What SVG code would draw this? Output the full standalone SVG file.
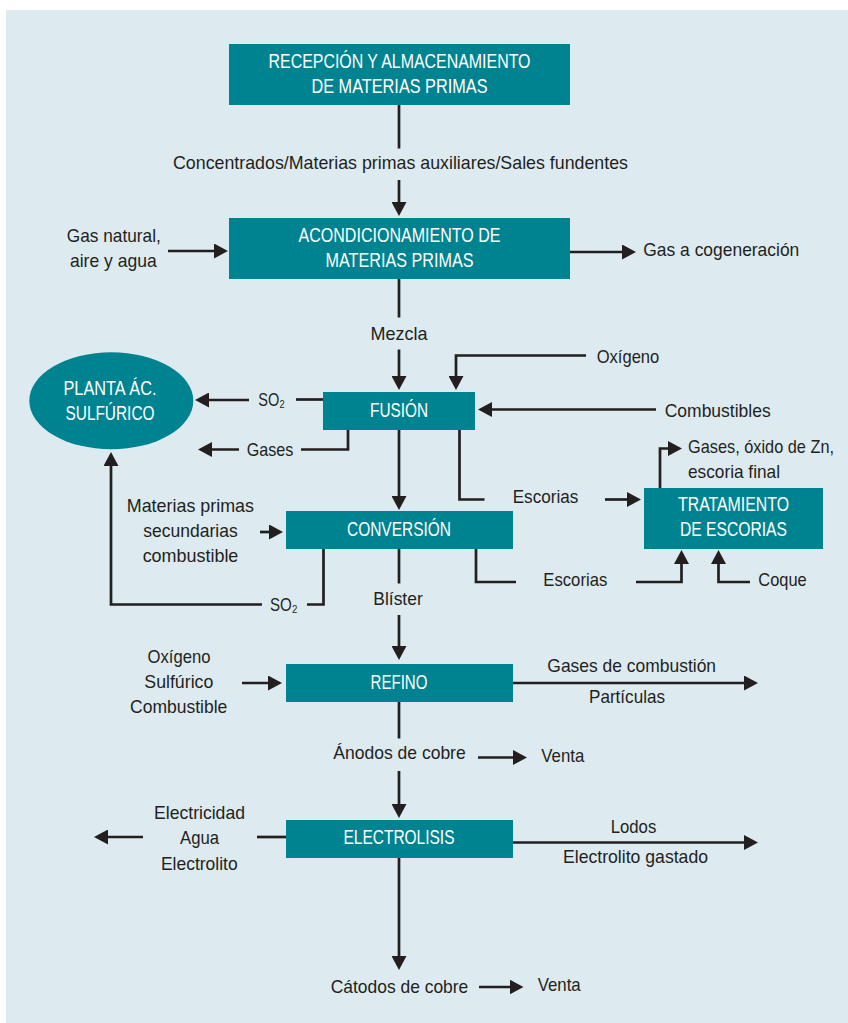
<svg xmlns="http://www.w3.org/2000/svg" width="848" height="1023" viewBox="0 0 848 1023">
<defs>
<style>
.bg{fill:#ffffff}
.panel{fill:#ddebf0}
.box{fill:#008390}
.bt{font-family:"Liberation Sans",Arial,sans-serif;font-size:20px;fill:#ffffff;text-anchor:middle}
.lt{font-family:"Liberation Sans","DejaVu Sans",Arial,sans-serif;font-size:19px;fill:#231f20}
.m{text-anchor:middle}
.ln{fill:none;stroke:#231f20;stroke-width:2.7;stroke-linejoin:miter}
.ar{marker-end:url(#ah)}
</style>
<marker id="ah" markerUnits="userSpaceOnUse" viewBox="0 0 14 15" markerWidth="14" markerHeight="15" refX="10" refY="7.5" orient="auto">
<path d="M0,0 L14,7.5 L0,15 Z" fill="#231f20"/>
</marker>
</defs>
<rect class="bg" x="0" y="0" width="848" height="1023"/>
<rect class="panel" x="6" y="10" width="842" height="1013"/>

<g id="connectors">
<path class="ln" d="M399,105 V148.5"/>
<path class="ln ar" d="M399,180 V212"/>
<path class="ln ar" d="M168,251 H224"/>
<path class="ln ar" d="M570,252 H632"/>
<path class="ln" d="M399,279 V317.5"/>
<path class="ln ar" d="M399,349.5 V386"/>
<path class="ln ar" d="M586,355.5 H456 V386"/>
<path class="ln ar" d="M656,409.5 H482"/>
<path class="ln" d="M323,399.5 H296"/>
<path class="ln ar" d="M249,400 H199"/>
<path class="ln" d="M348,430 V449.5 H301"/>
<path class="ln ar" d="M239,449.5 H202"/>
<path class="ln ar" d="M399,430 V506"/>
<path class="ln" d="M459.5,430 V499.5 H484.5"/>
<path class="ln ar" d="M605,499.5 H637"/>
<path class="ln ar" d="M660,488 V448.5 H678"/>
<path class="ln ar" d="M260,532 H279"/>
<path class="ln" d="M323.5,549 V604.5 H307"/>
<path class="ln ar" d="M262,604.5 H111 V456"/>
<path class="ln" d="M476,549 V582 H516"/>
<path class="ln ar" d="M636,582 H681.5 V554"/>
<path class="ln ar" d="M750,582 H718.5 V554"/>
<path class="ln" d="M399,549 V583.5"/>
<path class="ln ar" d="M399,615 V656"/>
<path class="ln ar" d="M242,683 H278"/>
<path class="ln ar" d="M513,683 H754"/>
<path class="ln" d="M399,702 V738.5"/>
<path class="ln ar" d="M399,771 V814"/>
<path class="ln ar" d="M478,757.5 H523"/>
<path class="ln" d="M286,837 H257"/>
<path class="ln ar" d="M143,837 H98"/>
<path class="ln ar" d="M513,842.5 H754"/>
<path class="ln ar" d="M399,858 V966"/>
<path class="ln ar" d="M479,987 H519.5"/>
</g>

<g id="recepcion">
<rect class="box" x="229" y="44" width="341" height="61"/>
<text class="bt" x="399.5" y="68.3" textLength="262" lengthAdjust="spacingAndGlyphs">RECEPCIÓN Y ALMACENAMIENTO</text>
<text class="bt" x="399.5" y="93.3" textLength="176" lengthAdjust="spacingAndGlyphs">DE MATERIAS PRIMAS</text>
</g>
<g id="acondicionamiento">
<rect class="box" x="229" y="218" width="341" height="61"/>
<text class="bt" x="399.5" y="242.3" textLength="202" lengthAdjust="spacingAndGlyphs">ACONDICIONAMIENTO DE</text>
<text class="bt" x="399.5" y="266.7" textLength="148" lengthAdjust="spacingAndGlyphs">MATERIAS PRIMAS</text>
</g>
<g id="fusion">
<rect class="box" x="323" y="392" width="152" height="38"/>
<text class="bt" x="399" y="417.3" textLength="58" lengthAdjust="spacingAndGlyphs">FUSIÓN</text>
</g>
<g id="planta">
<ellipse class="box" cx="111.3" cy="400.8" rx="82" ry="48.5"/>
<text class="bt" x="110" y="395" textLength="93" lengthAdjust="spacingAndGlyphs">PLANTA ÁC.</text>
<text class="bt" x="110" y="420" textLength="89" lengthAdjust="spacingAndGlyphs">SULFÚRICO</text>
</g>
<g id="conversion">
<rect class="box" x="286" y="511" width="227" height="38"/>
<text class="bt" x="399" y="536" textLength="104" lengthAdjust="spacingAndGlyphs">CONVERSIÓN</text>
</g>
<g id="tratamiento">
<rect class="box" x="644" y="488" width="179" height="61"/>
<text class="bt" x="733.5" y="511" textLength="111" lengthAdjust="spacingAndGlyphs">TRATAMIENTO</text>
<text class="bt" x="733.5" y="536" textLength="107" lengthAdjust="spacingAndGlyphs">DE ESCORIAS</text>
</g>
<g id="refino">
<rect class="box" x="286" y="664" width="227" height="38"/>
<text class="bt" x="399" y="689.3" textLength="57" lengthAdjust="spacingAndGlyphs">REFINO</text>
</g>
<g id="electrolisis">
<rect class="box" x="286" y="820" width="227" height="38"/>
<text class="bt" x="399" y="844" textLength="111" lengthAdjust="spacingAndGlyphs">ELECTROLISIS</text>
</g>

<g id="labels">
<text class="lt m" x="400.5" y="169.3" textLength="455" lengthAdjust="spacingAndGlyphs">Concentrados/Materias primas auxiliares/Sales fundentes</text>
<text class="lt m" x="113.8" y="241.7" textLength="94" lengthAdjust="spacingAndGlyphs">Gas natural,</text>
<text class="lt m" x="113.3" y="266.7" textLength="86.7" lengthAdjust="spacingAndGlyphs">aire y agua</text>
<text class="lt" x="643.3" y="256" textLength="156" lengthAdjust="spacingAndGlyphs">Gas a cogeneración</text>
<text class="lt m" x="399" y="340" textLength="57" lengthAdjust="spacingAndGlyphs">Mezcla</text>
<text class="lt" x="596.7" y="362.7" textLength="62.6" lengthAdjust="spacingAndGlyphs">Oxígeno</text>
<text class="lt" x="664.7" y="416.7" textLength="106" lengthAdjust="spacingAndGlyphs">Combustibles</text>
<text class="lt" x="258.3" y="406" textLength="26.7" lengthAdjust="spacingAndGlyphs">SO₂</text>
<text class="lt" x="246.7" y="455.7" textLength="46.6" lengthAdjust="spacingAndGlyphs">Gases</text>
<text class="lt" x="512.7" y="503.3" textLength="65.6" lengthAdjust="spacingAndGlyphs">Escorias</text>
<text class="lt" x="688" y="453.3" textLength="146" lengthAdjust="spacingAndGlyphs">Gases, óxido de Zn,</text>
<text class="lt" x="688" y="477.7" textLength="92" lengthAdjust="spacingAndGlyphs">escoria final</text>
<text class="lt m" x="190.4" y="511.7" textLength="127.3" lengthAdjust="spacingAndGlyphs">Materias primas</text>
<text class="lt m" x="190.5" y="536.7" textLength="94.3" lengthAdjust="spacingAndGlyphs">secundarias</text>
<text class="lt m" x="190.5" y="561.7" textLength="95.7" lengthAdjust="spacingAndGlyphs">combustible</text>
<text class="lt" x="270" y="610.7" textLength="27.7" lengthAdjust="spacingAndGlyphs">SO₂</text>
<text class="lt" x="543.3" y="586" textLength="64" lengthAdjust="spacingAndGlyphs">Escorias</text>
<text class="lt" x="758.3" y="586" textLength="48.4" lengthAdjust="spacingAndGlyphs">Coque</text>
<text class="lt m" x="398" y="605" textLength="49.4" lengthAdjust="spacingAndGlyphs">Blíster</text>
<text class="lt m" x="179" y="662.7" textLength="63" lengthAdjust="spacingAndGlyphs">Oxígeno</text>
<text class="lt m" x="178.8" y="688.3" textLength="69" lengthAdjust="spacingAndGlyphs">Sulfúrico</text>
<text class="lt m" x="178.7" y="712.7" textLength="97.3" lengthAdjust="spacingAndGlyphs">Combustible</text>
<text class="lt m" x="631.7" y="672.3" textLength="168.7" lengthAdjust="spacingAndGlyphs">Gases de combustión</text>
<text class="lt m" x="627" y="703.3" textLength="76" lengthAdjust="spacingAndGlyphs">Partículas</text>
<text class="lt m" x="399.5" y="759.3" textLength="132.4" lengthAdjust="spacingAndGlyphs">Ánodos de cobre</text>
<text class="lt" x="541.3" y="761.7" textLength="43" lengthAdjust="spacingAndGlyphs">Venta</text>
<text class="lt m" x="199.5" y="819" textLength="91" lengthAdjust="spacingAndGlyphs">Electricidad</text>
<text class="lt m" x="199.5" y="844" textLength="39" lengthAdjust="spacingAndGlyphs">Agua</text>
<text class="lt m" x="199.3" y="870" textLength="76.7" lengthAdjust="spacingAndGlyphs">Electrolito</text>
<text class="lt m" x="633.5" y="832.7" textLength="45.6" lengthAdjust="spacingAndGlyphs">Lodos</text>
<text class="lt m" x="635.5" y="862.7" textLength="145" lengthAdjust="spacingAndGlyphs">Electrolito gastado</text>
<text class="lt m" x="399.5" y="993.3" textLength="137.6" lengthAdjust="spacingAndGlyphs">Cátodos de cobre</text>
<text class="lt" x="537.7" y="991" textLength="43" lengthAdjust="spacingAndGlyphs">Venta</text>
</g>
</svg>
